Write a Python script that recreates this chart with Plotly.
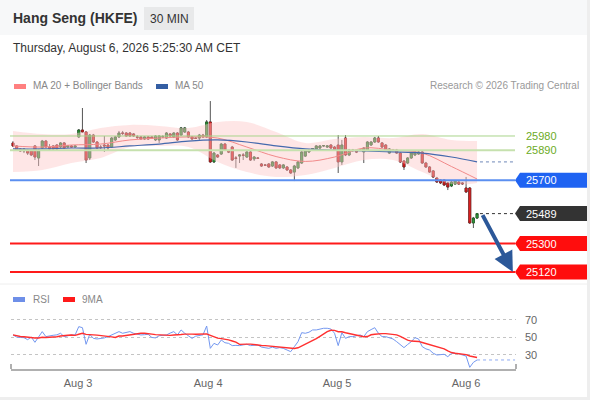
import pandas as pd
import plotly.graph_objects as go

W, H = 590, 400
FONT = "Liberation Sans"

# 30 min bars, Hang Seng futures (HKFE), Aug 3 - Aug 6
opens = [25936, 25917, 25898, 25885, 25891, 25885, 25917, 25841, 25904, 25948,
         25910, 25917, 25923, 25910, 25936, 25910, 25917, 25910, 25974, 26018,
         26005, 25841, 25986, 25942, 25910, 25923, 25923, 25910, 25955, 25974,
         25999, 25999, 25999, 25993, 25974, 25974, 25961, 25974, 25974, 25955,
         25955, 25974, 25967, 25993, 25974, 25999, 25986, 26005, 26005, 25974,
         25967, 25967, 25986, 25974, 26069, 25816, 25860, 25866, 25929, 25885,
         25910, 25841, 25853, 25860, 25847, 25879, 25835, 25841, 25803, 25797,
         25803, 25790, 25816, 25797, 25778, 25784, 25765, 25752, 25778, 25809,
         25853, 25879, 25898, 25898, 25904, 25917, 25910, 25923, 25910, 25923,
         25816, 25967, 25860, 25891, 25885, 25891, 25879, 25891, 25923, 25942,
         25967, 25936, 25923, 25872, 25891, 25891, 25872, 25822, 25809, 25841,
         25860, 25866, 25879, 25809, 25784, 25759, 25714, 25702, 25702, 25683,
         25664, 25676, 25689, 25683, 25651, 25651, 25430, 25461]
highs = [25948, 25923, 25904, 25904, 25898, 25891, 25923, 25898, 25955, 25955,
         25929, 25923, 25929, 25942, 25942, 25923, 25923, 25923, 26024, 26157,
         26012, 25993, 25993, 25948, 25923, 25980, 25929, 25974, 25980, 26012,
         26012, 26005, 26005, 25999, 25986, 25980, 25980, 25980, 25980, 25986,
         25986, 25986, 26005, 25999, 26005, 26005, 26037, 26037, 26012, 25980,
         25974, 25993, 25993, 26081, 26201, 25879, 25866, 25936, 25936, 25891,
         25917, 25853, 25866, 25872, 25885, 25885, 25853, 25847, 25809, 25803,
         25809, 25822, 25822, 25803, 25803, 25790, 25771, 25797, 25822, 25885,
         25891, 25898, 25904, 25923, 25923, 25923, 25923, 25929, 25917, 25986,
         25955, 25986, 25898, 25898, 25891, 25898, 25910, 25948, 25948, 25974,
         25980, 25942, 25929, 25904, 25898, 25898, 25879, 25828, 25847, 25879,
         25885, 25885, 25885, 25816, 25790, 25765, 25721, 25708, 25708, 25689,
         25695, 25702, 25695, 25689, 25721, 25657, 25468, 25493]
lows = [25910, 25885, 25879, 25872, 25860, 25853, 25828, 25790, 25898, 25904,
        25885, 25891, 25891, 25904, 25898, 25904, 25904, 25905, 25967, 25999,
        25809, 25828, 25936, 25898, 25898, 25879, 25891, 25904, 25948, 25967,
        25986, 25974, 25974, 25974, 25961, 25955, 25955, 25955, 25961, 25948,
        25936, 25967, 25961, 25974, 25967, 25948, 25980, 25999, 25967, 25955,
        25961, 25955, 25967, 25967, 25809, 25809, 25841, 25860, 25885, 25872,
        25822, 25778, 25809, 25828, 25841, 25822, 25822, 25835, 25784, 25790,
        25778, 25784, 25771, 25771, 25771, 25759, 25740, 25695, 25771, 25803,
        25847, 25872, 25891, 25891, 25898, 25910, 25904, 25898, 25885, 25746,
        25797, 25853, 25853, 25879, 25872, 25885, 25809, 25885, 25917, 25936,
        25936, 25904, 25885, 25866, 25885, 25866, 25809, 25765, 25803, 25835,
        25853, 25860, 25803, 25778, 25746, 25714, 25683, 25676, 25664, 25638,
        25657, 25670, 25670, 25670, 25620, 25424, 25398, 25455]
closes = [25917, 25891, 25885, 25898, 25872, 25860, 25847, 25891, 25948, 25910,
          25898, 25898, 25898, 25936, 25904, 25917, 25910, 25917, 26018, 26005,
          25828, 25986, 25942, 25904, 25908, 25917, 25904, 25967, 25974, 25999,
          25997, 25980, 25980, 25980, 25972, 25961, 25974, 25961, 25967, 25980,
          25980, 25976, 25999, 25980, 25999, 25955, 26031, 26031, 25974, 25961,
          25965, 25986, 25974, 26069, 25816, 25872, 25847, 25929, 25891, 25879,
          25828, 25839, 25860, 25858, 25879, 25828, 25847, 25839, 25790, 25795,
          25784, 25816, 25778, 25778, 25797, 25765, 25746, 25790, 25816, 25879,
          25885, 25891, 25900, 25917, 25917, 25919, 25917, 25904, 25891, 25816,
          25923, 25860, 25891, 25889, 25879, 25893, 25904, 25942, 25942, 25967,
          25942, 25910, 25891, 25898, 25889, 25872, 25816, 25784, 25841, 25872,
          25879, 25879, 25809, 25784, 25752, 25721, 25689, 25683, 25670, 25657,
          25689, 25695, 25676, 25678, 25626, 25430, 25461, 25489]

# moving averages and bands, read every 8 bars
ma_bars = [0, 8, 16, 24, 32, 40, 48, 56, 64, 72, 80, 88, 96, 104, 112, 120, 127]
ma20 = [25917, 25910, 25923, 25929, 25955, 25967, 25974, 25967, 25910, 25850,
        25819, 25847, 25904, 25891, 25872, 25787, 25708]
ma50 = [25898, 25898, 25904, 25904, 25917, 25929, 25948, 25955, 25942, 25917,
        25898, 25891, 25885, 25879, 25872, 25847, 25816]
bb_upper = [26012, 25993, 25993, 26031, 26050, 26044, 26031, 26069, 26069, 26005,
            25936, 25961, 25974, 25967, 25993, 25955, 25948]
bb_lower = [25752, 25765, 25809, 25841, 25910, 25917, 25910, 25816, 25752, 25721,
            25733, 25778, 25828, 25828, 25752, 25676, 25683]

rsi = [52.9, 50.5, 50, 49.8, 47.5, 50.5, 44.5, 50, 56.7, 51,
       52, 52.5, 53, 54.8, 51, 52, 52.9, 52.9, 62.4, 61.2,
       42.2, 53.6, 49, 48.3, 48.5, 49.5, 51, 53, 55, 56.7,
       54.8, 55.5, 56.7, 54.8, 53.5, 52.9, 53.2, 53.6, 50, 49.5,
       52, 52.5, 52.9, 55, 56.7, 52.9, 58.6, 54.8, 52, 49,
       51.5, 52.5, 53, 63.1, 37.6, 43.3, 41.4, 47.1, 44, 43.3,
       40.7, 41, 40.7, 41.5, 42.2, 40.7, 41, 41.4, 39, 38.5,
       37.6, 39, 37.6, 38.4, 37.5, 35.7, 33.8, 39.5, 45.2, 55.5,
       54.8, 56, 58.6, 58.6, 59.5, 60.5, 60.5, 59.7, 54.8, 40.7,
       55.5, 49, 51, 51, 52, 52.9, 51, 56.7, 59, 61.2,
       54.8, 51, 51, 50, 48.3, 45.2, 42, 38.4, 42, 45.2,
       49.8, 48.3, 39.5, 37, 35.7, 32, 30, 30.4, 30.8, 28.1,
       31.9, 31.9, 31.5, 30, 28.8, 15.9, 21.6, 24.3]

resistances = [25980, 25890]
pivot = 25700
supports = [25300, 25120]
rsi_levels = [30, 50, 70]
day_ticks = [17.8, 53.4, 88.7, 124.0]
day_labels = ["Aug 3", "Aug 4", "Aug 5", "Aug 6"]

bars = list(range(len(closes)))
rsi_ma = pd.Series(rsi).rolling(9, min_periods=1).mean()
last = bars[-1]
x_range = [-0.55, 137.66]
x_end = 137.4

# body-only candles drawn over the gray wicks
body_top = [max(o, c) for o, c in zip(opens, closes)]
body_bot = [min(o, c) for o, c in zip(opens, closes)]


def fx(px):
    return px / W


def fy(px):
    return 1 - px / H


fig = go.Figure()

# bollinger band + moving averages
fig.add_trace(go.Scatter(x=ma_bars, y=bb_upper, mode="lines", line=dict(width=0, shape="spline"),
                         hoverinfo="skip"))
fig.add_trace(go.Scatter(x=ma_bars, y=bb_lower, mode="lines", line=dict(width=0, shape="spline"),
                         fill="tonexty", fillcolor="rgba(252,200,200,0.45)", hoverinfo="skip"))
fig.add_trace(go.Scatter(x=ma_bars, y=ma20, mode="lines",
                         line=dict(color="#f28a8a", width=1, shape="spline")))
fig.add_trace(go.Scatter(x=ma_bars, y=ma50, mode="lines",
                         line=dict(color="#4469ad", width=1.2, shape="spline")))
fig.add_trace(go.Scatter(x=[last + 0.8, x_end], y=[ma50[-1]] * 2, mode="lines",
                         line=dict(color="#6f88b8", width=1, dash="dot")))

# wicks
fig.add_trace(go.Candlestick(
    x=bars, open=opens, high=highs, low=lows, close=closes,
    increasing=dict(line=dict(color="#555555", width=1), fillcolor="#555555"),
    decreasing=dict(line=dict(color="#555555", width=1), fillcolor="#555555"),
    whiskerwidth=0,
))
# bodies
fig.add_trace(go.Candlestick(
    x=bars, open=opens, high=body_top, low=body_bot, close=closes,
    increasing=dict(line=dict(color="#1d5e21", width=0.6), fillcolor="#2f9d3a"),
    decreasing=dict(line=dict(color="#8a1515", width=0.6), fillcolor="#e62222"),
    whiskerwidth=0,
))
fig.add_trace(go.Scatter(x=[last + 0.8, x_end], y=[closes[-1]] * 2, mode="lines",
                         line=dict(color="#333333", width=1, dash="dot")))

# rsi panel
fig.add_trace(go.Scatter(x=bars, y=rsi, mode="lines", line=dict(color="#7498f0", width=1),
                         xaxis="x2", yaxis="y2"))
fig.add_trace(go.Scatter(x=bars, y=rsi_ma, mode="lines", line=dict(color="#ff3030", width=1.4),
                         xaxis="x2", yaxis="y2"))
fig.add_trace(go.Scatter(x=[last, x_end], y=[rsi[-1]] * 2, mode="lines",
                         line=dict(color="#8eaaf2", width=1, dash="dot"), xaxis="x2", yaxis="y2"))

shapes = []
# header band and frame
shapes.append(dict(type="rect", xref="paper", yref="paper", x0=0, x1=1, y0=fy(35), y1=1,
                   fillcolor="#f7f8f9", line_width=0, layer="below"))
shapes.append(dict(type="rect", xref="paper", yref="paper", x0=fx(144), x1=fx(194), y0=fy(30), y1=fy(7),
                   fillcolor="#e8e9ea", line_width=0, layer="below"))
shapes.append(dict(type="rect", xref="paper", yref="paper", x0=fx(587), x1=1, y0=0, y1=1,
                   fillcolor="#eeeeee", line_width=0, layer="below"))
shapes.append(dict(type="rect", xref="paper", yref="paper", x0=0, x1=1, y0=0, y1=fy(397),
                   fillcolor="#eeeeee", line_width=0, layer="below"))
shapes.append(dict(type="line", xref="paper", yref="paper", x0=0, x1=fx(587), y0=fy(284), y1=fy(284),
                   line=dict(color="#eeeeee", width=1)))

# price levels
level_styles = [(resistances[0], "#a8d48a", 1), (resistances[1], "#c6e1ae", 2),
                (pivot, "#5b8ff0", 2), (supports[0], "#ff1a1a", 2), (supports[1], "#ff1a1a", 2)]
for lvl, col, wd in level_styles:
    shapes.append(dict(type="line", xref="paper", yref="y", x0=fx(10), x1=fx(515), y0=lvl, y1=lvl,
                       line=dict(color=col, width=wd)))

# tagged price labels
tag_path = "M0,0 L5,7.5 L72,7.5 L72,-7.5 L5,-7.5 Z"
tags = [(pivot, "#1f63f2"), (closes[-1], "#333333"), (supports[0], "#ff0d0d"), (supports[1], "#ff0d0d")]
for lvl, col in tags:
    shapes.append(dict(type="path", xref="paper", yref="y", xsizemode="pixel", ysizemode="pixel",
                       xanchor=fx(515), yanchor=lvl, path=tag_path, fillcolor=col, line_width=0))

# legend swatches
for x0, x1, y0, y1, col in [(14, 26, 84, 89, "#ff8080"), (156, 168, 84, 89, "#345ea3"),
                            (13, 25, 297, 302, "#6e8fe8"), (63, 75, 297, 302, "#ff1a1a")]:
    shapes.append(dict(type="rect", xref="paper", yref="paper", x0=fx(x0), x1=fx(x1),
                       y0=fy(y1), y1=fy(y0), fillcolor=col, line_width=0))

# bottom axis end marks
for xp in (11, 516):
    shapes.append(dict(type="line", xref="paper", yref="paper", x0=fx(xp), x1=fx(xp),
                       y0=fy(369), y1=fy(364), line=dict(color="#b0b0b0", width=2)))

ann = []


def text(x, y, s, size=11, color="#888888", anchor="left", bold=False):
    ann.append(dict(xref="paper", yref="paper", x=fx(x), y=fy(y), text=f"<b>{s}</b>" if bold else s,
                    showarrow=False, xanchor=anchor, yanchor="middle",
                    font=dict(family=FONT, size=size, color=color)))


text(11, 18, "Hang Seng (HKFE)", size=14, color="#333333", bold=True)
text(169, 18.5, "30 MIN", size=12, color="#333333", anchor="center")
text(11, 48, "Thursday, August 6, 2026 5:25:30 AM CET", size=12, color="#333333")
text(31, 86, "MA 20 + Bollinger Bands", size=10)
text(173, 86, "MA 50", size=10)
text(581, 86, "Research © 2026 Trading Central", size=10, color="#999999", anchor="right")
text(31, 299, "RSI", size=10)
text(80, 299, "9MA", size=10)

for lvl in resistances:
    ann.append(dict(xref="paper", yref="y", x=fx(524), y=lvl, text=str(lvl), showarrow=False,
                    xanchor="left", yanchor="middle", font=dict(family=FONT, size=11, color="#6cab25")))
for lvl, _ in tags:
    ann.append(dict(xref="paper", yref="y", x=fx(524), y=lvl, text=str(lvl), showarrow=False,
                    xanchor="left", yanchor="middle", font=dict(family=FONT, size=11, color="white")))

# target arrow
ann.append(dict(x=136.8, y=supports[1], ax=last + 1.3, ay=closes[-1], xref="x", yref="y",
                axref="x", ayref="y", text="", showarrow=True, arrowhead=2, arrowsize=1,
                arrowwidth=4, arrowcolor="#2c5899", standoff=0, startstandoff=0))

fig.update_layout(
    width=W, height=H, margin=dict(l=0, r=0, t=0, b=0),
    paper_bgcolor="white", plot_bgcolor="rgba(0,0,0,0)",
    showlegend=False, shapes=shapes, annotations=ann,
    font=dict(family=FONT), boxgap=0.2, hovermode=False,
    xaxis=dict(domain=[fx(11), fx(516)], range=x_range, visible=False,
               rangeslider=dict(visible=False), anchor="y"),
    yaxis=dict(domain=[fy(285), fy(95)], range=[25037.5, 26239.3], visible=False, anchor="x"),
    xaxis2=dict(domain=[fx(11), fx(516)], range=x_range, anchor="y2", showline=True,
                linecolor="#b0b0b0", linewidth=2, ticks="", tickvals=day_ticks, ticktext=day_labels,
                tickfont=dict(family=FONT, size=11, color="#666666"), showgrid=False,
                zeroline=False, ticklabelstandoff=3),
    yaxis2=dict(domain=[fy(369), fy(305)], range=[14, 87.1], anchor="x2", side="right",
                tickvals=rsi_levels, showgrid=True, gridcolor="#c4c4c4", griddash="dot",
                gridwidth=1, zeroline=False, showline=False, ticks="",
                tickfont=dict(family=FONT, size=11, color="#666666"), ticklabelstandoff=8),
)

fig.write_html("out.html", config={"displayModeBar": False},
               post_script="document.body.style.margin='0';")
